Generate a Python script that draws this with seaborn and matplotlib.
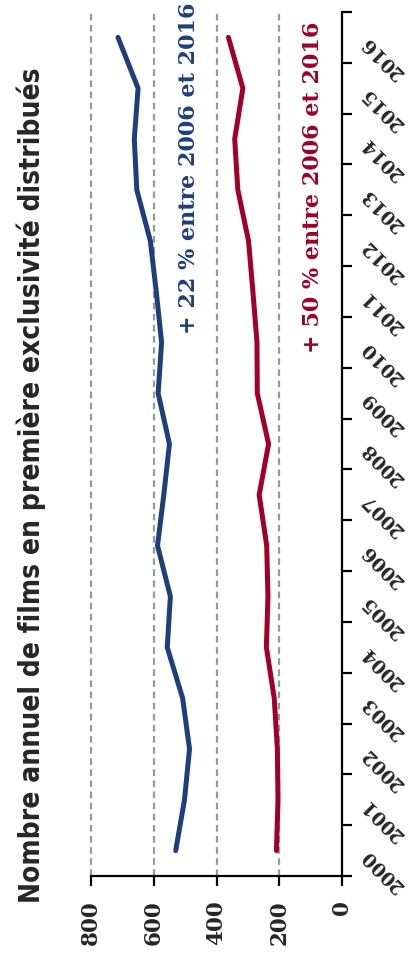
import pandas as pd
import seaborn as sns
import matplotlib.pyplot as plt
from matplotlib.ticker import FixedLocator, NullFormatter

# data (rotated layout: years on the vertical axis)
years = list(range(2000, 2017))
total_films = [530, 502, 486, 508, 557, 547, 588, 568, 550, 586, 575, 592, 611, 654, 662, 650, 714]
second_series = [209, 204, 206, 216, 241, 236, 240, 264, 234, 270, 271, 284, 298, 332, 342, 316, 362]
value_ticks = [0, 200, 400, 600, 800]
title = "Nombre annuel de films en première exclusivité distribués"
label_total = "+ 22 % entre 2006 et 2016"
label_second = "+ 50 % entre 2006 et 2016"

blue = "#1f3f7a"
red = "#a0002a"

sns.set_theme(style="white")
plt.rcParams['font.family'] = ['DejaVu Serif']

df = pd.DataFrame({
    "year": years * 2,
    "value": total_films + second_series,
    "serie": ["total"] * len(years) + ["second"] * len(years),
})

fig = plt.figure(figsize=(4.13, 9.62), dpi=100)
ax = fig.add_axes([91 / 413, 85 / 962, (342 - 91) / 413, (877 - 13) / 962])

sns.lineplot(data=df, x="value", y="year", hue="serie", orient="y",
             palette={"total": blue, "second": red}, linewidth=3.6,
             legend=False, ax=ax, solid_capstyle="round")

ax.set_xlim(800, 0)
ax.set_ylim(1999.5, 2016.5)
ax.set_xlabel("")
ax.set_ylabel("")

# dashed grid on value axis
for v in value_ticks[1:]:
    ax.axvline(v, color="#999999", linestyle=(0, (3, 2)), linewidth=1.6,
               zorder=0, clip_on=False)

for s in ["top", "left"]:
    ax.spines[s].set_visible(False)
for s in ["right", "bottom"]:
    ax.spines[s].set_color("black")
    ax.spines[s].set_linewidth(1.6)

ax.set_xticks(value_ticks)
ax.set_xticklabels([str(v) for v in value_ticks], rotation=90,
                   fontsize=15.5, fontweight="bold")
ax.tick_params(axis="x", direction="out", length=7, width=1.6, color="black",
               pad=10, bottom=True)

ax.yaxis.tick_right()
ax.yaxis.set_major_locator(FixedLocator([y - 0.5 for y in years] + [2016.5]))
ax.yaxis.set_major_formatter(NullFormatter())
ax.yaxis.set_minor_locator(FixedLocator(years))
ax.set_yticklabels([str(y) for y in years], minor=True)
ax.tick_params(axis="y", which="major", direction="out", length=7, width=1.6,
               color="black", right=True, left=False)
ax.tick_params(axis="y", which="minor", length=0, pad=16, right=True, left=False)
for lab in ax.get_yticklabels(minor=True):
    lab.set_rotation(135)
    lab.set_rotation_mode("anchor")
    lab.set_ha("right")
    lab.set_va("center")
    lab.set_fontsize(13.5)
    lab.set_fontweight("bold")

ax.text(489, 2013.45, label_total, rotation=90, color=blue, fontsize=16,
        fontweight="bold", ha="center", va="center", clip_on=False)
ax.text(92, 2013.07, label_second, rotation=90, color=red, fontsize=16,
        fontweight="bold", ha="center", va="center", clip_on=False)

fig.text(31 / 413, 1 - 485 / 962, title, rotation=90, ha="center", va="center",
         fontsize=20.2, fontweight="bold", family="DejaVu Sans",
         fontstretch="condensed")

plt.savefig("out.png", dpi=100)
